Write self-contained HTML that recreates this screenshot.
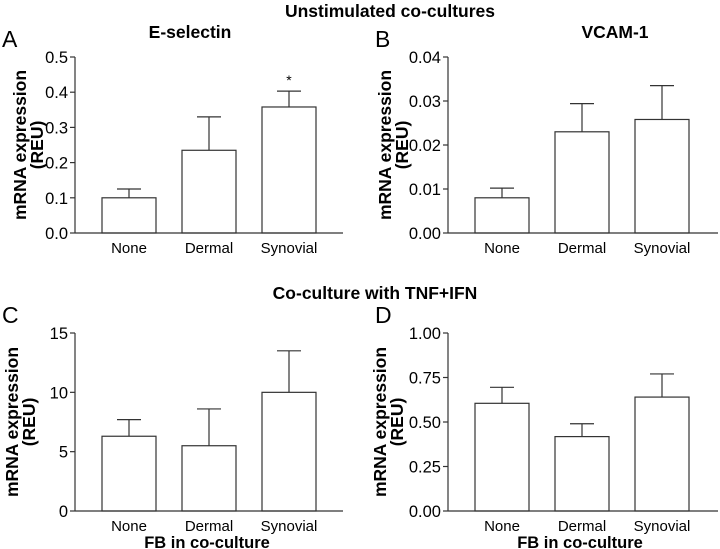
<!DOCTYPE html>
<html><head><meta charset="utf-8"><style>
body{margin:0;background:#fff;}
svg{display:block;font-family:"Liberation Sans",Arial,sans-serif;}
</style></head><body>
<svg id="fig" width="720" height="549" viewBox="0 0 720 549">
<text x="390" y="17" text-anchor="middle" font-size="17.5" font-weight="bold">Unstimulated co-cultures</text>
<text x="375" y="299" text-anchor="middle" font-size="17.5" font-weight="bold">Co-culture with TNF+IFN</text>
</svg>
<script>
const categories = ["None","Dermal","Synovial"];
const meansA = [0.10, 0.235, 0.358];
const errA = [0.025, 0.095, 0.045];
const ticksA = ["0.0","0.1","0.2","0.3","0.4","0.5"];
const meansB = [0.008, 0.023, 0.0258];
const errB = [0.0022, 0.0064, 0.0077];
const ticksB = ["0.00","0.01","0.02","0.03","0.04"];
const meansC = [6.3, 5.5, 10.0];
const errC = [1.4, 3.1, 3.5];
const ticksC = ["0","5","10","15"];
const meansD = [0.605, 0.418, 0.64];
const errD = [0.09, 0.072, 0.13];
const ticksD = ["0.00","0.25","0.50","0.75","1.00"];

const NS="http://www.w3.org/2000/svg";
const svg=document.getElementById('fig');
function mk(tag,attrs,parent){const e=document.createElementNS(NS,tag);for(const k in attrs)e.setAttribute(k,attrs[k]);(parent||svg).appendChild(e);return e;}

function panel(id,letter,title,titleX,ax,top,bottom,right,means,errs,ticks,ymax,xlabel,ytOff){
  const g=mk('g',{});
  
  
  const y=v=>bottom-(v/ymax)*(bottom-top);
  const bx=i=>ax+27+i*80;
  const bw=54;
  const L=mk('text',{x:ax-73,y:top-10,'font-size':23},g);L.textContent=letter;
  
  
  if(title){const t=mk('text',{x:titleX,y:top-19,'text-anchor':'middle','font-size':17.5,'font-weight':'bold'},g);t.textContent=title;
    
    }
  const cy=(top+bottom)/2;
  const yt=mk('text',{transform:`translate(${ax+ytOff},${cy}) rotate(-90)`,'text-anchor':'middle','font-size':17.5,'font-weight':'bold'},g);
  
  
  const t1=mk('tspan',{x:0,dy:0},yt);t1.textContent='mRNA expression';
  const t2=mk('tspan',{x:0,dy:17},yt);t2.textContent='(REU)';
  ticks.forEach((lab,i)=>{
    const v=i*ymax/(ticks.length-1);
    const yy=y(v);
    const tk=mk('line',{x1:ax-5,x2:ax,y1:yy,y2:yy,stroke:'#333','stroke-width':1.2},g);
    
    
    const tl=mk('text',{x:ax-7,y:yy+6,'text-anchor':'end','font-size':16.5},g);tl.textContent=lab;
    
    
  });
  const ya=mk('line',{x1:ax,x2:ax,y1:top,y2:bottom,stroke:'#333','stroke-width':1.2},g);
  
  
  categories.forEach((c,i)=>{
    const x0=bx(i),cx=x0+bw/2;
    const et=y(means[i]+errs[i]);
    const el=mk('line',{x1:cx,x2:cx,y1:y(means[i]),y2:et,stroke:'#333','stroke-width':1.2},g);
    
    
    const cap=mk('line',{x1:cx-12,x2:cx+12,y1:et,y2:et,stroke:'#333','stroke-width':1.2},g);
    
    
    const r=mk('rect',{x:x0,y:y(means[i]),width:bw,height:bottom-y(means[i]),fill:'#fff',stroke:'#333','stroke-width':1.2},g);
    
    
    const cl=mk('text',{x:cx,y:bottom+20,'text-anchor':'middle','font-size':15},g);cl.textContent=c;
    
    
  });
  const xa=mk('line',{x1:ax,x2:right,y1:bottom,y2:bottom,stroke:'#333','stroke-width':1.2},g);
  
  
  if(xlabel){const xl=mk('text',{x:ax+132,y:bottom+37,'text-anchor':'middle','font-size':16.5,'font-weight':'bold'},g);xl.textContent=xlabel;
    
    }
  return {g,y};
}
const pa=panel('a','A','E-selectin',190,75,57,233,343,meansA,errA,ticksA,0.5,null,-49);
const star=mk('text',{x:75+27+160+27,y:pa.y(meansA[2]+errA[2])-6,'text-anchor':'middle','font-size':14},pa.g);
star.textContent='*';


panel('b','B','VCAM-1',615,448,57,233,718,meansB,errB,ticksB,0.04,null,-57);
panel('c','C',null,0,75,333,511,343,meansC,errC,ticksC,15,'FB in co-culture',-57);
panel('d','D',null,0,448,333,511,718,meansD,errD,ticksD,1.0,'FB in co-culture',-62);
</script>
</body></html>
